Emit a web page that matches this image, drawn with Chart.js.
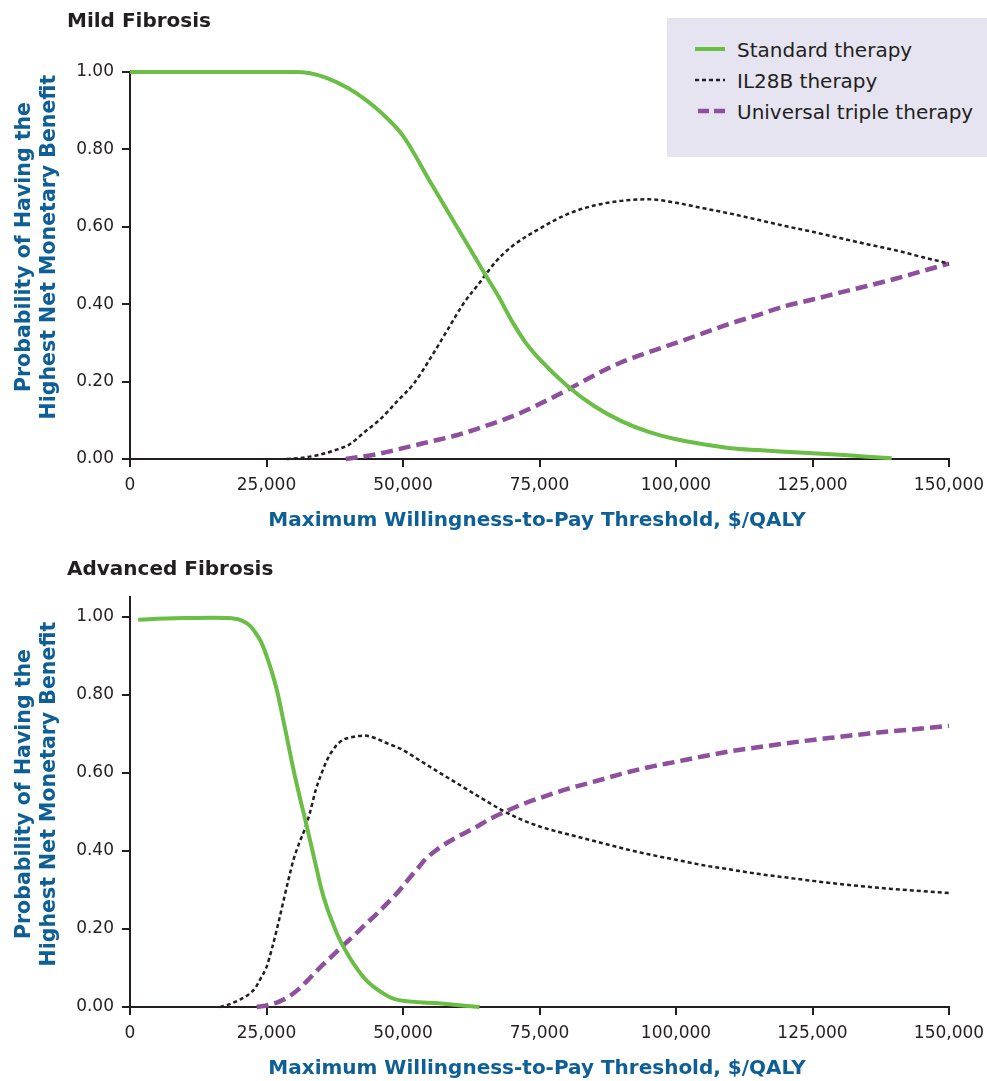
<!DOCTYPE html>
<html><head><meta charset="utf-8">
<script src="https://cdn.jsdelivr.net/npm/chart.js@4.4.1/dist/chart.umd.min.js"></script>
<style>
html,body{margin:0;padding:0;background:#fff;}
body{width:987px;height:1081px;position:relative;overflow:hidden;font-family:"DejaVu Sans",sans-serif;}
canvas{position:absolute;left:0;}
#c1{top:0;}
#c2{top:540px;}
.t{position:absolute;white-space:nowrap;line-height:1;}
.ptitle{font-weight:bold;font-size:20px;color:#231f20;left:67px;}
.xtitle{font-weight:bold;font-size:20px;color:#0e5f96;transform:translateX(-50%);left:537px;}
.ytitle{position:absolute;width:420px;height:50px;line-height:25px;text-align:center;font-weight:bold;font-size:20.5px;color:#0e5f96;transform:rotate(-90deg);white-space:nowrap;}
#legend{position:absolute;left:667px;top:18px;width:320px;height:139px;background:#e6e4f1;}
.lt{position:absolute;left:70px;font-size:20px;color:#231f20;white-space:nowrap;line-height:1;}
</style></head>
<body>
<canvas id="c1" width="987" height="540"></canvas>
<canvas id="c2" width="987" height="541"></canvas>

<div class="t ptitle" style="top:10px;">Mild Fibrosis</div>
<div class="t ptitle" style="top:558px;">Advanced Fibrosis</div>
<div class="t xtitle" style="top:509px;">Maximum Willingness-to-Pay Threshold, $/QALY</div>
<div class="t xtitle" style="top:1057px;">Maximum Willingness-to-Pay Threshold, $/QALY</div>
<div class="ytitle" style="left:-174px;top:221.5px;">Probability of Having the<br>Highest Net Monetary Benefit</div>
<div class="ytitle" style="left:-174px;top:769px;">Probability of Having the<br>Highest Net Monetary Benefit</div>

<div id="legend">
  <svg width="320" height="139" style="position:absolute;left:0;top:0">
    <line x1="28" y1="31" x2="58" y2="31" stroke="#6abd45" stroke-width="4"/>
    <line x1="28" y1="62" x2="58" y2="62" stroke="#231f20" stroke-width="2.5" stroke-dasharray="4 3"/>
    <line x1="31" y1="93" x2="58" y2="93" stroke="#8e4f9c" stroke-width="4.5" stroke-dasharray="11 5"/>
  </svg>
  <div class="lt" style="top:22px;">Standard therapy</div>
  <div class="lt" style="top:53px;">IL28B therapy</div>
  <div class="lt" style="top:84px;">Universal triple therapy</div>
</div>

<script>
// ---- Data ----
const seriesNames = ['Standard therapy', 'IL28B therapy', 'Universal triple therapy'];

const xTickValues = [0, 25000, 50000, 75000, 100000, 125000, 150000];
const xTickLabels = ['0', '25,000', '50,000', '75,000', '100,000', '125,000', '150,000'];
const yTickValues = [0, 0.2, 0.4, 0.6, 0.8, 1.0];
const yTickLabels = ['0.00', '0.20', '0.40', '0.60', '0.80', '1.00'];

// Mild fibrosis
const mildStandardX = [0, 5000, 10000, 15000, 20000, 25000, 30000, 33000, 36000, 40000, 43000, 46000, 50000, 55000, 60000, 65000, 67500, 70000, 72500, 75000, 80000, 85000, 90000, 95000, 100000, 105000, 110000, 115000, 120000, 125000, 130000, 135000, 139500];
const mildStandardY = [1, 1, 1, 1, 1, 1, 1, 0.997, 0.985, 0.958, 0.93, 0.895, 0.835, 0.716, 0.597, 0.478, 0.42, 0.355, 0.3, 0.258, 0.19, 0.137, 0.098, 0.07, 0.051, 0.038, 0.028, 0.023, 0.019, 0.015, 0.011, 0.006, 0.002];

const mildIL28BX = [28700, 32000, 35000, 38000, 40000, 43000, 46000, 49000, 52000, 55000, 58000, 61000, 64000, 67000, 70000, 75000, 80000, 85000, 90000, 95000, 100000, 105000, 110000, 115000, 120000, 125000, 130000, 135000, 140000, 145000, 150000];
const mildIL28BY = [0, 0.004, 0.012, 0.025, 0.036, 0.07, 0.105, 0.15, 0.195, 0.26, 0.33, 0.4, 0.455, 0.51, 0.55, 0.595, 0.632, 0.655, 0.667, 0.671, 0.662, 0.648, 0.634, 0.618, 0.602, 0.587, 0.571, 0.555, 0.54, 0.522, 0.505];

const mildUniversalX = [39500, 45000, 50000, 55000, 60000, 65000, 70000, 75000, 80000, 85000, 90000, 95000, 100000, 105000, 110000, 115000, 120000, 125000, 130000, 135000, 140000, 145000, 150000];
const mildUniversalY = [0, 0.012, 0.028, 0.045, 0.062, 0.085, 0.11, 0.142, 0.178, 0.216, 0.25, 0.276, 0.3, 0.325, 0.35, 0.372, 0.395, 0.412, 0.43, 0.447, 0.465, 0.485, 0.505];

// Advanced fibrosis
const advStandardX = [1500, 5000, 10000, 15000, 18000, 20000, 21000, 22000, 23000, 24000, 25000, 26000, 27000, 28000, 29000, 30000, 31000, 32000, 33000, 34000, 35000, 36000, 37000, 38000, 39100, 41000, 43300, 46000, 48500, 56000, 64000];
const advStandardY = [0.992, 0.994, 0.996, 0.997, 0.996, 0.992, 0.986, 0.976, 0.958, 0.935, 0.9, 0.857, 0.806, 0.74, 0.672, 0.604, 0.543, 0.485, 0.425, 0.365, 0.305, 0.258, 0.22, 0.185, 0.154, 0.11, 0.068, 0.038, 0.02, 0.01, 0.0];

const advIL28BX = [16500, 18000, 20000, 22000, 23000, 24000, 25000, 26000, 27000, 28000, 29000, 30000, 31000, 32000, 33000, 34000, 35000, 36000, 37000, 38000, 39000, 41000, 43000, 45000, 47000, 50000, 53000, 56000, 60000, 64000, 68000, 72000, 76000, 80000, 85000, 90000, 95000, 100000, 105000, 110000, 115000, 120000, 125000, 130000, 135000, 140000, 145000, 150000];
const advIL28BY = [0, 0.006, 0.018, 0.035, 0.05, 0.075, 0.102, 0.15, 0.205, 0.265, 0.325, 0.38, 0.42, 0.455, 0.5, 0.555, 0.595, 0.63, 0.655, 0.673, 0.684, 0.692, 0.695, 0.688, 0.676, 0.658, 0.632, 0.606, 0.572, 0.538, 0.505, 0.478, 0.458, 0.443, 0.425, 0.407, 0.391, 0.377, 0.363, 0.352, 0.341, 0.332, 0.323, 0.315, 0.308, 0.302, 0.297, 0.292];

const advUniversalX = [23200, 25000, 27000, 29000, 31000, 33000, 35000, 37000, 39000, 41000, 43000, 45000, 47000, 49000, 51000, 53000, 54000, 56000, 58000, 60000, 63000, 66000, 69000, 72000, 75000, 80000, 85000, 90000, 95000, 100000, 105000, 110000, 115000, 120000, 125000, 130000, 135000, 140000, 145000, 150000];
const advUniversalY = [0, 0.004, 0.012, 0.026, 0.047, 0.075, 0.104, 0.13, 0.157, 0.183, 0.21, 0.236, 0.264, 0.293, 0.327, 0.36, 0.377, 0.401, 0.42, 0.436, 0.458, 0.482, 0.502, 0.52, 0.535, 0.558, 0.577, 0.597, 0.614, 0.628, 0.642, 0.655, 0.665, 0.675, 0.684, 0.692, 0.7, 0.707, 0.713, 0.72];

// ---- Styles ----
const INK = '#231f20';
const styles = [
  { borderColor: '#6abd45', borderWidth: 4, borderDash: [] },
  { borderColor: INK, borderWidth: 2.5, borderDash: [4, 3] },
  { borderColor: '#8e4f9c', borderWidth: 4.5, borderDash: [12, 6] }
];

function zip(xs, ys) { return xs.map((x, i) => ({ x: x, y: ys[i] })); }

function makeDatasets(pairs) {
  return pairs.map((p, i) => Object.assign({
    label: seriesNames[i],
    data: zip(p[0], p[1]),
    pointRadius: 0,
    fill: false,
    clip: false,
    cubicInterpolationMode: 'monotone',
    borderCapStyle: 'butt'
  }, styles[i]));
}

function makeChart(id, datasets, yMax, padTop, xAxisH) {
  return new Chart(document.getElementById(id), {
    type: 'line',
    data: { datasets: datasets },
    options: {
      responsive: false,
      animation: false,
      events: [],
      layout: { padding: { left: 0, top: padTop, right: 38, bottom: 0 } },
      plugins: { legend: { display: false }, tooltip: { enabled: false }, title: { display: false } },
      scales: {
        x: {
          type: 'linear', min: 0, max: 150000,
          afterBuildTicks: s => { s.ticks = xTickValues.map(v => ({ value: v })); },
          afterFit: s => { s.height = xAxisH; s.paddingLeft = 0; s.paddingRight = 0; },
          ticks: { color: INK, font: { family: 'DejaVu Sans', size: 17 }, padding: 8, maxRotation: 0, autoSkip: false,
                   callback: (v, i) => xTickLabels[i] },
          grid: { display: true, drawOnChartArea: false, drawTicks: true, tickLength: 8, color: INK, lineWidth: 2 },
          border: { display: true, color: INK, width: 2 }
        },
        y: {
          type: 'linear', min: 0, max: yMax,
          afterBuildTicks: s => { s.ticks = yTickValues.map(v => ({ value: v })); },
          afterFit: s => { s.width = 130; s.paddingTop = 0; s.paddingBottom = 0; },
          ticks: { color: INK, font: { family: 'DejaVu Sans', size: 17 }, padding: 8, autoSkip: false,
                   callback: (v, i) => yTickLabels[i] },
          grid: { display: true, drawOnChartArea: false, drawTicks: true, tickLength: 8, color: INK, lineWidth: 2 },
          border: { display: true, color: INK, width: 2 }
        }
      }
    }
  });
}

makeChart('c1', makeDatasets([
  [mildStandardX, mildStandardY],
  [mildIL28BX, mildIL28BY],
  [mildUniversalX, mildUniversalY]
]), 1.0, 72, 81);

makeChart('c2', makeDatasets([
  [advStandardX, advStandardY],
  [advIL28BX, advIL28BY],
  [advUniversalX, advUniversalY]
]), 1.05, 57, 74);
</script>
</body></html>
